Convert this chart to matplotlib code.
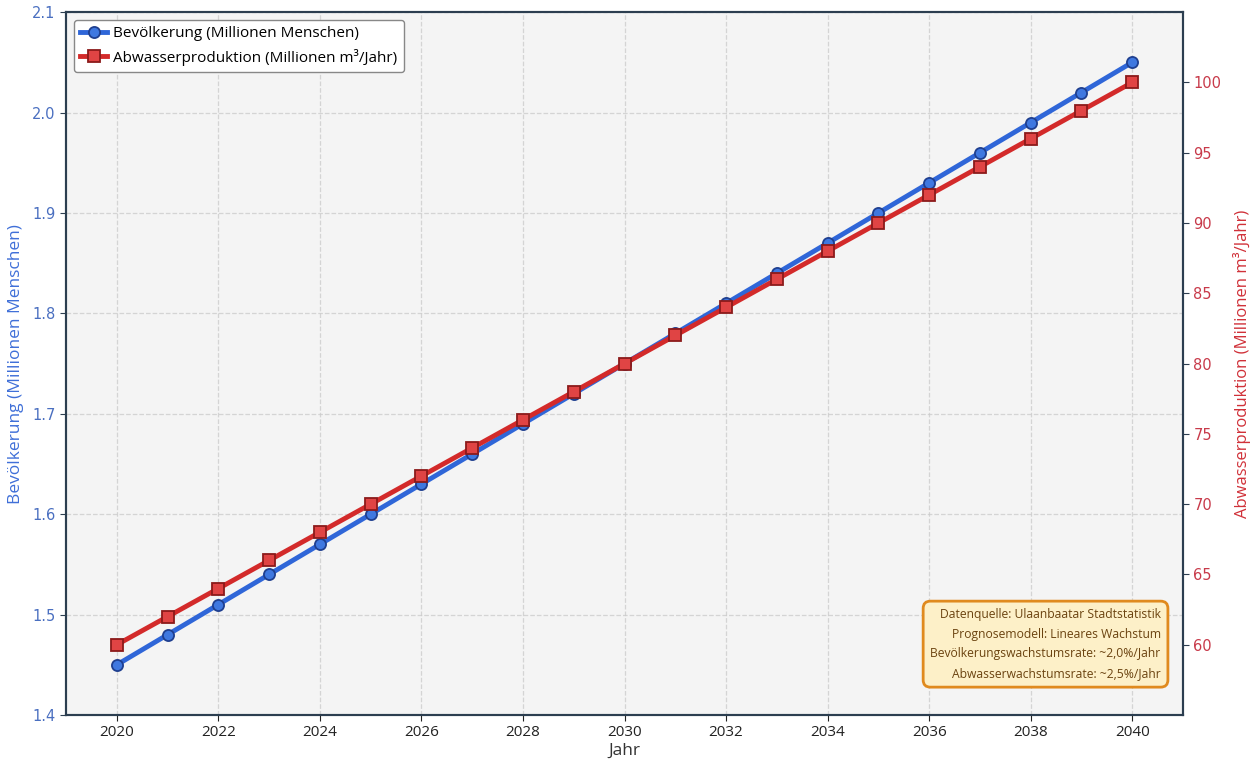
import numpy as np
import matplotlib.pyplot as plt

plt.rcParams['font.family'] = ['Open Sans', 'DejaVu Sans']

# Data
years = [2020, 2021, 2022, 2023, 2024, 2025, 2026, 2027, 2028, 2029, 2030,
         2031, 2032, 2033, 2034, 2035, 2036, 2037, 2038, 2039, 2040]
population = [1.45, 1.48, 1.51, 1.54, 1.57, 1.60, 1.63, 1.66, 1.69, 1.72, 1.75,
              1.78, 1.81, 1.84, 1.87, 1.90, 1.93, 1.96, 1.99, 2.02, 2.05]
wastewater = [60, 62, 64, 66, 68, 70, 72, 74, 76, 78, 80,
              82, 84, 86, 88, 90, 92, 94, 96, 98, 100]
x_ticks = [2020, 2022, 2024, 2026, 2028, 2030, 2032, 2034, 2036, 2038, 2040]
left_ticks = [1.4, 1.5, 1.6, 1.7, 1.8, 1.9, 2.0, 2.1]
right_ticks = [60, 65, 70, 75, 80, 85, 90, 95, 100]

blue = '#2f66d8'
red = '#d32a2a'
spine_col = '#2c3e50'

fig = plt.figure(figsize=(12.5, 7.61), dpi=100)
ax1 = fig.add_axes([0.0528, 0.0604, 0.8936, 0.9236])
ax1.set_facecolor('#f4f4f4')
ax2 = ax1.twinx()

l1, = ax1.plot(years, population, color=blue, linewidth=3.5, marker='o', markersize=8,
               markerfacecolor='#3f78e0', markeredgecolor='#1f3f8f', markeredgewidth=1.3,
               label='Bevölkerung (Millionen Menschen)', zorder=3)
l2, = ax2.plot(years, wastewater, color=red, linewidth=3.5, marker='s', markersize=8,
               markerfacecolor='#e04444', markeredgecolor='#8b1a1a', markeredgewidth=1.3,
               label='Abwasserproduktion (Millionen m³/Jahr)', zorder=3)

ax1.set_xlim(2019, 2041)
ax1.set_ylim(1.4, 2.1)
ax2.set_ylim(55, 105)
ax1.set_xticks(x_ticks)
ax1.set_yticks(left_ticks, [f'{v:.1f}' for v in left_ticks],
               fontfamily='DejaVu Sans', fontsize=10.5, color='#4a6fc0')
ax2.set_yticks(right_ticks, [str(v) for v in right_ticks],
               fontfamily='DejaVu Sans', fontsize=10.5, color='#c83a4a')

ax1.grid(True, linestyle='--', color='#cccccc', alpha=0.8, linewidth=0.9)
ax1.set_axisbelow(True)

ax1.set_xlabel('Jahr', fontsize=12.5, color='#333333', labelpad=2)
ax1.set_ylabel('Bevölkerung (Millionen Menschen)', fontsize=12.5, color='#3f6fd8', labelpad=6)
ax2.set_ylabel('Abwasserproduktion (Millionen m³/Jahr)', fontsize=12, color='#d03038', labelpad=8)

ax1.tick_params(axis='x', labelsize=11, colors='#222222', length=4)
ax1.tick_params(axis='y', length=4, color='#2c3e50')
ax2.tick_params(axis='y', length=4, color='#2c3e50')

for ax in (ax1, ax2):
    for sp in ax.spines.values():
        sp.set_color(spine_col)
        sp.set_linewidth(1.5)

ax1.legend(handles=[l1, l2], loc='upper left', fontsize=11, frameon=True,
           edgecolor='#888888', facecolor='white', framealpha=1.0,
           borderpad=0.4, handlelength=1.8, handletextpad=0.4)

info = ('Datenquelle: Ulaanbaatar Stadtstatistik\n'
        'Prognosemodell: Lineares Wachstum\n'
        'Bevölkerungswachstumsrate: ~2,0%/Jahr\n'
        'Abwasserwachstumsrate: ~2,5%/Jahr')
ax1.text(0.98, 0.05, info, transform=ax1.transAxes, ha='right', va='bottom',
         fontsize=8.7, color='#6b4310', linespacing=1.65, zorder=5,
         bbox=dict(boxstyle='round,pad=0.6', facecolor='#fdf0c8',
                   edgecolor='#e08a1e', linewidth=2))

fig.savefig('out.png', dpi=100)
